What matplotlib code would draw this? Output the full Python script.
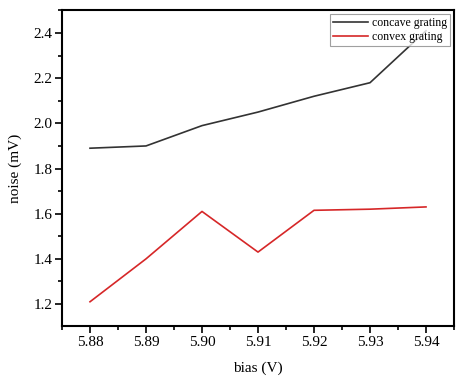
import matplotlib
matplotlib.use('Agg')
import matplotlib.pyplot as plt
from matplotlib.ticker import MultipleLocator

bias = [5.88, 5.89, 5.90, 5.91, 5.92, 5.93, 5.94]
concave = [1.89, 1.90, 1.99, 2.05, 2.12, 2.18, 2.41]
convex = [1.21, 1.40, 1.61, 1.43, 1.615, 1.62, 1.63]

plt.rcParams['font.family'] = ['Liberation Serif', 'DejaVu Serif']

fig = plt.figure(figsize=(4.62, 3.79), dpi=100)
ax = fig.add_axes([62/462, 1-326/379, (454-62)/462, (326-10)/379])

ax.plot(bias, concave, color='#333333', lw=1.2, label='concave grating')
ax.plot(bias, convex, color='#d62728', lw=1.2, label='convex grating')

ax.set_xlim(5.875, 5.945)
ax.set_ylim(1.1027, 2.502)
ax.xaxis.set_major_locator(MultipleLocator(0.01))
ax.xaxis.set_minor_locator(MultipleLocator(0.005))
ax.yaxis.set_major_locator(MultipleLocator(0.2))
ax.yaxis.set_minor_locator(MultipleLocator(0.1))
ax.xaxis.set_major_formatter(plt.FormatStrFormatter('%.2f'))
ax.yaxis.set_major_formatter(plt.FormatStrFormatter('%.1f'))
ax.tick_params(which='both', direction='out', width=1.2, labelsize=11, pad=2)
ax.tick_params(which='major', length=5)
ax.tick_params(which='minor', length=3)
for s in ax.spines.values():
    s.set_linewidth(1.5)

ax.set_xlabel('bias (V)', fontsize=11, labelpad=9)
ax.set_ylabel('noise (mV)', fontsize=11, labelpad=8)

leg = ax.legend(loc='upper right', fontsize=8.5, frameon=True, fancybox=False,
                handlelength=3.0, borderpad=0.25, labelspacing=0.2,
                handletextpad=0.3, borderaxespad=0.35)
leg.get_frame().set_edgecolor('#888888')
leg.get_frame().set_linewidth(0.8)

fig.savefig('out.png', dpi=100)
